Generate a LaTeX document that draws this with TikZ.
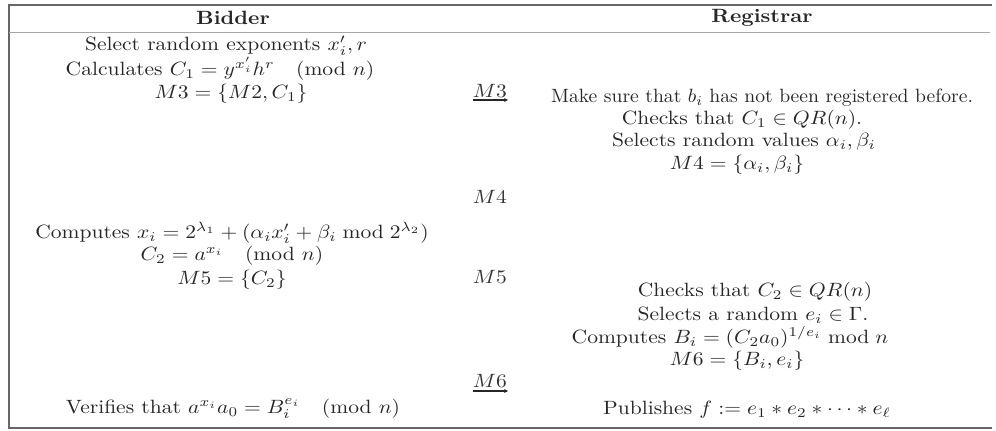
\documentclass[tikz,border=0pt]{standalone}
\usepackage{graphicx}
\usetikzlibrary{arrows.meta}
\newcommand{\hstretch}[1]{\scalebox{1.12}[1]{#1}}
\newcommand{\hstretchs}[1]{\scalebox{1.02}[1]{#1}}
\begin{document}
\begin{tikzpicture}[x=0.52pt,y=-0.52pt,
  txt/.style={inner sep=0pt,anchor=center,text=black!85},
  hdr/.style={txt,font=\bfseries},
  msg/.style={inner sep=0pt,text=black!80},
  frame/.style={draw=black!60,line width=0.8pt},
  sep/.style={draw=black!35,line width=0.5pt},
  marrow/.style={draw=black!85,line width=0.7pt,-{Stealth[length=2pt,width=2pt]}}]
\useasboundingbox (0,0) rectangle (996,431);
% frame
\coordinate (tl) at (9,5);
\coordinate (tr) at (992,5);
\coordinate (bl) at (9,428);
\coordinate (br) at (992,428);
\coordinate (hl) at (9,32);
\coordinate (hr) at (990,32);
\draw[frame] (tr) -- (tl) -- (bl) -- (br);
\draw[sep] (hl) -- (hr);
% headers
\node[hdr] (hb) at (233,18) {\hstretch{Bidder}};
\node[hdr] (hrg) at (762,18) {\hstretch{Registrar}};
% bidder
\node[txt] (b1) at (226,46) {\hstretch{Select random exponents $x_i', r$}};
\node[txt] (b2) at (220,69) {\hstretch{Calculates $C_1 = y^{x_i'} h^r \pmod n$}};
\node[txt] (b3) at (231,94) {\hstretch{$M3 = \{M2, C_1\}$}};
\node[txt] (b4) at (232,233) {\hstretch{Computes $x_i = 2^{\lambda_1} + (\alpha_i x_i' + \beta_i \bmod 2^{\lambda_2})$}};
\node[txt] (b5) at (232,256) {\hstretch{$C_2 = a^{x_i} \pmod n$}};
\node[txt] (b6) at (232,280) {\hstretch{$M5 = \{C_2\}$}};
\node[txt] (b7) at (233,409) {\hstretch{Verifies that $a^{x_i} a_0 = B_i^{e_i} \pmod n$}};
% registrar
\node[txt] (r1) at (762,98) {\hstretchs{Make sure that $b_i$ has not been registered before.}};
\node[txt] (r2) at (742,120) {\hstretch{Checks that $C_1 \in QR(n)$.}};
\node[txt] (r3) at (744,142) {\hstretch{Selects random values $\alpha_i, \beta_i$}};
\node[txt] (r4) at (737,165) {\hstretch{$M4 = \{\alpha_i, \beta_i\}$}};
\node[txt] (r5) at (755,292) {\hstretch{Checks that $C_2 \in QR(n)$}};
\node[txt] (r6) at (753,315) {\hstretch{Selects a random $e_i \in \Gamma$.}};
\node[txt] (r7) at (730,337) {\hstretch{Computes $B_i = (C_2 a_0)^{1/e_i} \bmod n$}};
\node[txt] (r8) at (737,361) {\hstretch{$M6 = \{B_i, e_i\}$}};
\node[txt] (r9) at (747,410) {\hstretch{Publishes $f := e_1 * e_2 * \cdots * e_\ell$}};
% messages
\node[msg] (m3) at (490,91) {\hstretch{$M3$}};
\node[msg] (m4) at (490,197) {\hstretch{$M4$}};
\node[msg] (m5) at (490,277) {\hstretch{$M5$}};
\node[msg] (m6) at (490,381) {\hstretch{$M6$}};
\coordinate (m3a) at (473,100);
\coordinate (m3b) at (508,100);
\coordinate (m6a) at (473,391);
\coordinate (m6b) at (508,391);
\draw[marrow] (m3a) -- (m3b);
\draw[marrow] (m6a) -- (m6b);
\end{tikzpicture}
\end{document}
